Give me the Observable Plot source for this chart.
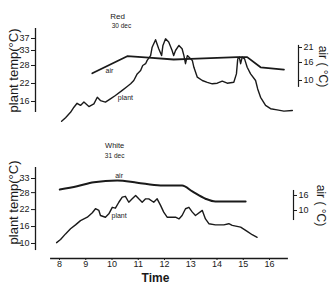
<!DOCTYPE html>
<html>
<head>
<meta charset="utf-8">
<script src="https://cdn.jsdelivr.net/npm/d3@7"></script>
<script src="https://cdn.jsdelivr.net/npm/@observablehq/plot@0.6"></script>
<style>
  html, body { margin: 0; padding: 0; background: #fff; }
  #chart svg { display: block; -webkit-font-smoothing: antialiased; }
</style>
</head>
<body>
<div id="chart"></div>
<script>
// ---------- DATA ----------
// Red, 30 dec — plant temperature (°C, left axis)
const redHours = [8.08,8.23,8.42,8.55,8.67,8.80,8.93,9.12,9.31,9.44,9.56,9.75,9.94,10.13,10.39,10.58,10.71,10.83,10.96,11.09,11.17,11.28,11.34,11.47,11.53,11.66,11.78,11.89,11.94,12.04,12.16,12.29,12.35,12.42,12.55,12.67,12.74,12.80,12.87,13.06,13.12,13.25,13.44,13.63,13.82,14.01,14.20,14.39,14.64,14.74,14.79,14.85,14.90,14.96,15.05,15.15,15.28,15.47,15.55,15.66,15.85,16.04,16.29,16.55,16.87];
const redPlant = [9.4,10.6,12.4,14.1,15.4,14.7,15.8,14.3,15.2,17.4,16.3,15.8,16.9,18.0,19.7,21.0,21.9,23.0,25.2,26.3,28.0,28.6,29.7,31.3,34.1,36.6,33.6,31.3,34.7,36.9,35.8,33.0,31.3,33.0,34.7,33.6,31.3,28.6,31.3,29.7,27.4,24.1,23.0,22.4,21.9,22.1,22.8,22.1,22.4,25.2,30.2,30.8,28.6,30.8,30.2,27.4,25.2,23.0,20.2,17.4,14.7,13.6,13.2,12.8,13.0];
// Red, 30 dec — air temperature (°C, right axis)
const redAirHours = [9.25,10.58,11.40,12.35,12.99,14.77,15.15,15.66,16.55];
const redAir = [12.4,18.1,17.6,17.0,17.2,17.8,17.8,14.4,13.6];

// White, 31 dec — plant temperature
const whiteHours = [7.89,8.04,8.23,8.42,8.61,8.80,9.06,9.25,9.37,9.50,9.56,9.75,9.88,10.01,10.13,10.26,10.39,10.51,10.64,10.77,10.90,11.02,11.15,11.28,11.40,11.59,11.72,11.85,11.97,12.10,12.42,12.55,12.67,12.80,12.93,13.06,13.18,13.44,13.56,13.69,13.94,14.26,14.45,14.58,14.90,15.15,15.34,15.53];
const whitePlant = [10.3,11.4,13.4,15.2,16.6,18.1,19.3,20.9,22.3,21.7,19.9,19.3,20.5,22.8,22.5,24.6,26.4,26.7,24.6,25.8,27.0,25.8,24.6,25.8,25.8,24.6,25.8,23.5,21.1,19.3,19.3,18.7,19.9,22.3,22.8,21.1,19.9,21.7,18.7,17.0,16.6,16.6,17.0,16.4,15.8,14.3,13.1,12.2];
// White, 31 dec — air temperature
const whiteAirHours = [8.01,8.67,9.31,10.20,10.96,11.85,12.67,13.06,13.56,13.94,15.09];
const whiteAir = [18.4,19.7,21.3,22.0,21.1,20.0,20.0,17.6,14.7,13.6,13.6];

// Tick labels
const timeTicks = [8,9,10,11,12,13,14,15,16];
const redPlantTicks = [16,22,28,33,37];
const redAirTicks = [10,16,21];
const whitePlantTicks = [10,16,22,28,33];
const whiteAirTicks = [10,16];

// Texts
const redTitle = ["Red", "30 dec"];
const whiteTitle = ["White", "31 dec"];
const plantAxisLabel = "plant temp(°C)";
const airAxisLabel = "air ( °C)";
const timeLabel = "Time";

// ---------- LAYOUT ----------
const W = 335;
const ink = "#1a1a1a";
const font = "Liberation Sans, Arial, sans-serif";

// right-axis (air) to left-axis (plant) mappings as drawn on the sheet
const redAirToPlant = a => a + 13;
const redPlantToAir = p => p - 13;
const whiteAirToPlant = a => 12.8 + 0.887 * a;
const whitePlantToAir = p => (p - 12.8) / 0.887;

// annotation anchors (hour, plant-scale value)
const redAnn = {title: [10.21, 44.3], sub: [10.36, 41.3], air: [9.90, 26.2], plant: [10.51, 17.3], airAxis: [7.7, 21.7]};
const whiteAnn = {title: [10.10, 44.5], sub: [10.10, 41.1], air: [10.27, 33.8], plant: [10.27, 19.9], airAxis: [6.0, 18.0], leftAxis: [7.5, 36.9], xLine: [7.66, 16.72]};

const redX = [7.0857, 17.1048];
const redY = [12.333, 40.333];
const whiteX = [7.0857, 16.914];
const whiteY = [4.69, 39.37];

const baseStyle = {background: "#fff", color: ink, fontFamily: font, fontSize: "9px", overflow: "visible"};
const txt = {fill: ink, stroke: null};

// ---------- TOP PANEL (Red) ----------
const redChart = Plot.plot({
  width: W, height: 140,
  marginLeft: 35, marginRight: 37, marginTop: 28, marginBottom: 28,
  style: baseStyle,
  x: {domain: redX, axis: null},
  y: {domain: redY, label: null},
  marks: [
    Plot.ruleX([redX[0]], {stroke: ink, strokeWidth: 1.3}),
    Plot.axisY(redPlantTicks, {anchor: "left", tickSize: 4, tickPadding: 2, label: null, fontSize: 9, fill: ink}),
    Plot.ruleX([redX[1]], {y1: redAirToPlant(redAnn.airAxis[0]), y2: redAirToPlant(redAnn.airAxis[1]), stroke: ink, strokeWidth: 1.2}),
    Plot.axisY(redAirTicks.map(redAirToPlant), {anchor: "right", tickSize: 3, tickPadding: 2, label: null, fontSize: 9, fill: ink,
      tickFormat: d => Math.round(redPlantToAir(d))}),
    Plot.line(redAir, {x: (d, i) => redAirHours[i], y: d => redAirToPlant(d), stroke: ink, strokeWidth: 1.8}),
    Plot.line(redPlant, {x: (d, i) => redHours[i], y: d => d, stroke: ink, strokeWidth: 1.4}),
    Plot.text([redTitle[0]], {...txt, x: redAnn.title[0], y: redAnn.title[1], fontSize: 8}),
    Plot.text([redTitle[1]], {...txt, x: redAnn.sub[0], y: redAnn.sub[1], fontSize: 6.5}),
    Plot.text(["air"], {...txt, x: redAnn.air[0], y: redAnn.air[1], fontSize: 7}),
    Plot.text(["plant"], {...txt, x: redAnn.plant[0], y: redAnn.plant[1], fontSize: 7}),
    Plot.text([plantAxisLabel], {...txt, frameAnchor: "left", textAnchor: "middle", lineAnchor: "middle", rotate: -90, dx: -22, fontSize: 13}),
    Plot.text([airAxisLabel], {...txt, frameAnchor: "right", textAnchor: "middle", lineAnchor: "middle", rotate: 90, dx: 24, dy: -4, fontSize: 12})
  ]
});

// ---------- BOTTOM PANEL (White) ----------
const whiteChart = Plot.plot({
  width: W, height: 148,
  marginLeft: 35, marginRight: 42, marginTop: 20, marginBottom: 30,
  style: baseStyle,
  x: {domain: whiteX, label: null},
  y: {domain: whiteY, label: null},
  marks: [
    Plot.ruleX([whiteX[0]], {y1: whiteAnn.leftAxis[0], y2: whiteAnn.leftAxis[1], stroke: ink, strokeWidth: 1.3}),
    Plot.axisY(whitePlantTicks, {anchor: "left", tickSize: 4, tickPadding: 2, label: null, fontSize: 9, fill: ink}),
    Plot.ruleX([whiteX[1]], {y1: whiteAirToPlant(whiteAnn.airAxis[0]), y2: whiteAirToPlant(whiteAnn.airAxis[1]), stroke: ink, strokeWidth: 1.2}),
    Plot.axisY(whiteAirTicks.map(whiteAirToPlant), {anchor: "right", tickSize: 3, tickPadding: 2, label: null, fontSize: 9, fill: ink,
      tickFormat: d => Math.round(whitePlantToAir(d))}),
    Plot.ruleY([whiteY[0]], {x1: whiteAnn.xLine[0], x2: whiteAnn.xLine[1], stroke: ink, strokeWidth: 1.4}),
    Plot.axisX(timeTicks, {anchor: "bottom", tickSize: 2, tickPadding: 0, label: null, fontSize: 9, fill: ink}),
    Plot.line(whiteAir, {x: (d, i) => whiteAirHours[i], y: d => whiteAirToPlant(d), stroke: ink, strokeWidth: 2, curve: "monotone-x"}),
    Plot.line(whitePlant, {x: (d, i) => whiteHours[i], y: d => d, stroke: ink, strokeWidth: 1.4}),
    Plot.text([whiteTitle[0]], {...txt, x: whiteAnn.title[0], y: whiteAnn.title[1], fontSize: 7.5}),
    Plot.text([whiteTitle[1]], {...txt, x: whiteAnn.sub[0], y: whiteAnn.sub[1], fontSize: 6.5}),
    Plot.text(["air"], {...txt, x: whiteAnn.air[0], y: whiteAnn.air[1], fontSize: 7}),
    Plot.text(["plant"], {...txt, x: whiteAnn.plant[0], y: whiteAnn.plant[1], fontSize: 7}),
    Plot.text([plantAxisLabel], {...txt, frameAnchor: "left", textAnchor: "middle", lineAnchor: "middle", rotate: -90, dx: -22, dy: -7, fontSize: 13}),
    Plot.text([airAxisLabel], {...txt, frameAnchor: "right", textAnchor: "middle", lineAnchor: "middle", rotate: 90, dx: 27, dy: -4, fontSize: 12}),
    Plot.text([timeLabel], {...txt, frameAnchor: "bottom", textAnchor: "middle", lineAnchor: "middle", dx: -9, dy: 20, fontSize: 12, fontWeight: "bold"})
  ]
});

const root = document.getElementById("chart");
root.appendChild(redChart);
root.appendChild(whiteChart);
</script>
</body>
</html>
